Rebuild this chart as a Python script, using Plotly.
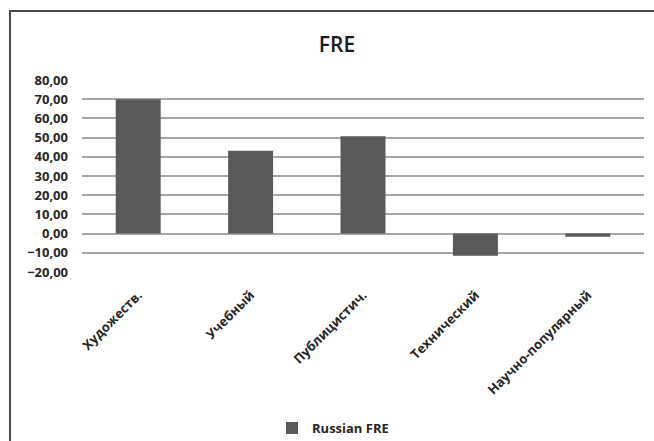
import plotly.graph_objects as go

# Flesch reading ease scores by text genre
categories = ["Художеств.", "Учебный", "Публицистич.", "Технический", "Научно-популярный"]
fre_values = [70.0, 43.2, 50.7, -11.5, -1.6]
series_name = "Russian FRE"
y_ticks = [-20, -10, 0, 10, 20, 30, 40, 50, 60, 70, 80]

W, H = 654, 441
ML, MR, MT, MB = 82, 10, 80, 169
plot_w = W - ML - MR
plot_h = H - MT - MB
y_lo, y_hi = -20, 80


def px_to_paper_x(px):
    return (px - ML) / plot_w


def px_to_paper_y(py):
    return (H - MB - py) / plot_h


bar_color = "#595959"
text_color = "#262626"
font_family = "Open Sans, Noto Sans, DejaVu Sans, sans-serif"

fig = go.Figure()
fig.add_trace(go.Bar(
    x=categories,
    y=fre_values,
    name=series_name,
    marker=dict(color=bar_color, line=dict(width=0)),
    width=0.4,
    showlegend=True,
))

# Outer chart frame: left and top edges
frame_left = px_to_paper_x(10)
frame_top = px_to_paper_y(11)
fig.add_shape(
    type="path",
    xref="paper", yref="paper",
    path=f"M {frame_left} {px_to_paper_y(H + 5)} L {frame_left} {frame_top} L {px_to_paper_x(W + 5)} {frame_top}",
    line=dict(color="#4a4a4a", width=2),
)

fig.update_layout(
    width=W, height=H,
    margin=dict(l=ML, r=MR, t=MT, b=MB, pad=0, autoexpand=False),
    paper_bgcolor="white",
    plot_bgcolor="white",
    separators=", ",
    font=dict(family=font_family, color=text_color),
    title=dict(
        text="FRE",
        x=px_to_paper_x(337), xref="paper", xanchor="center",
        y=1 - 45 / H, yref="container", yanchor="middle",
        font=dict(size=21, color="#1a1a1a", family=font_family, weight=600),
    ),
    bargap=0.6,
    xaxis=dict(
        automargin=False,
        tickangle=-45,
        tickfont=dict(size=13, color=text_color, family=font_family, weight="bold"),
        showgrid=False,
        showline=False,
        zeroline=False,
        ticks="",
        ticklabelstandoff=12,
    ),
    yaxis=dict(
        automargin=False,
        range=[y_lo, y_hi],
        tickvals=y_ticks,
        tickformat=".2f",
        tickfont=dict(size=13, color=text_color, family=font_family, weight="bold"),
        showgrid=True,
        gridcolor="#a6a6a6",
        gridwidth=1.5,
        zeroline=True,
        zerolinecolor="#a6a6a6",
        zerolinewidth=1.5,
        showline=False,
        ticks="",
        ticklabelstandoff=13,
    ),
    legend=dict(
        orientation="h",
        x=px_to_paper_x(333), xanchor="center",
        y=px_to_paper_y(428), yanchor="middle",
        font=dict(size=13, color=text_color, family=font_family, weight="bold"),
        itemwidth=30,
        bgcolor="rgba(0,0,0,0)",
    ),
)

fig.write_html("out.html")
